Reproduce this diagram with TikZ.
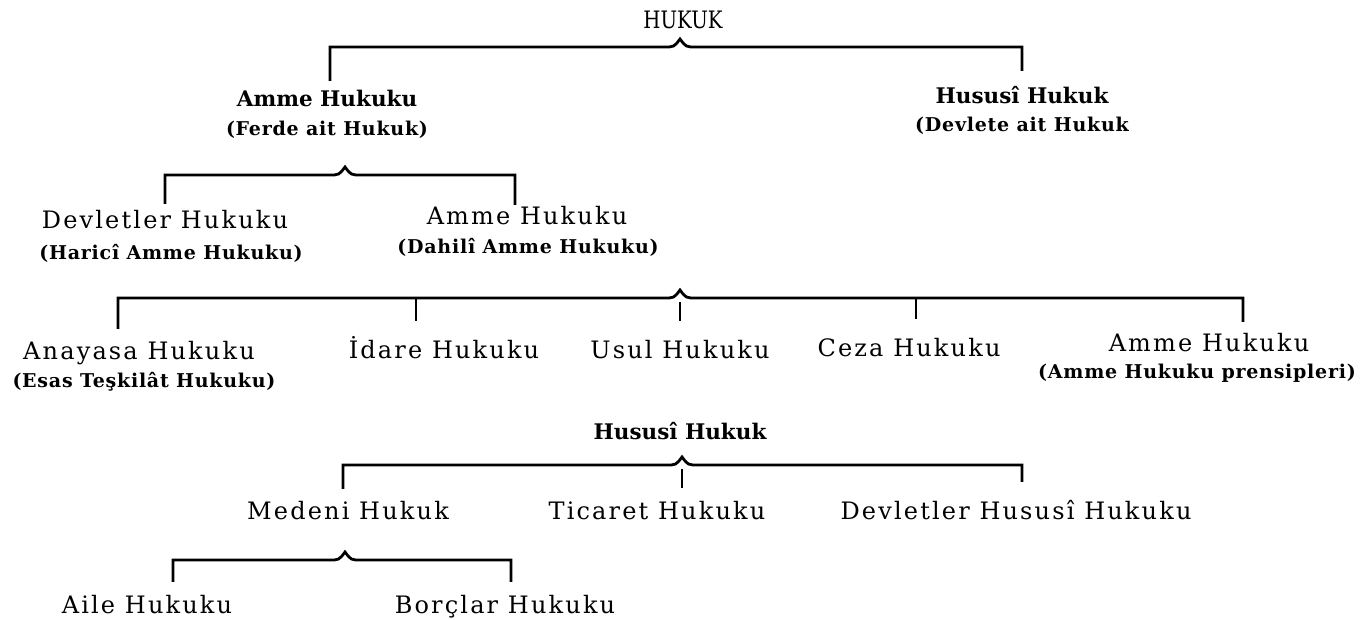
\documentclass[tikz,border=0pt]{standalone}
\usepackage{fontspec}
\setmainfont{DejaVu Serif}
\newfontfamily\spacedfont{DejaVu Serif}[LetterSpace=9]
\newfontfamily\notefont{DejaVu Serif}[LetterSpace=4]
\newfontfamily\condfont{DejaVu Serif}[FakeStretch=0.82]
\usepackage{tikz}
\usetikzlibrary{positioning}

\tikzset{
  term/.style = {font=\spacedfont\fontsize{24}{28}\selectfont, inner sep=0pt, text height=17pt, text depth=5pt},
  head/.style = {font=\bfseries\fontsize{21.5}{25}\selectfont, inner sep=0pt, text height=16pt, text depth=4pt},
  note/.style = {font=\notefont\bfseries\fontsize{19}{22}\selectfont, inner sep=0pt, text height=14pt, text depth=4pt},
  title/.style = {font=\condfont\fontsize{24}{28}\selectfont, inner sep=0pt},
  brk/.style = {line width=2.8pt},
  leg/.style = {line width=2.3pt}
}

\begin{document}
\begin{tikzpicture}[x=1pt, y=-1pt]
  \useasboundingbox (0,0) rectangle (1364,619);

  % level 1
  \node[title] (hukuk) at (683,20) {HUKUK};
  \node[head] (amme1) at (327,100) {Amme Hukuku};
  \node[note] (ferde) at (327,130) {(Ferde ait Hukuk)};
  \node[head] (hususi1) at (1022,97) {Hususî Hukuk};
  \node[note] (devlete) at (1022,126) {(Devlete ait Hukuk};
  \coordinate (t1) at (680,47);
  \draw[brk] ([xshift=3pt,yshift=9pt]amme1.north) |- ([xshift=-16pt]t1)
    .. controls ([xshift=-6pt]t1) .. ([yshift=8pt]t1)
    .. controls ([xshift=6pt]t1) .. ([xshift=16pt]t1) -| ([yshift=16pt]hususi1.north);

  % amme hukuku
  \node[term] (devl) at (165,222) {Devletler Hukuku};
  \node[note] (haric) at (171,254) {(Haricî Amme Hukuku)};
  \node[term] (amme2) at (527,218) {Amme Hukuku};
  \node[note] (dahili) at (528,248) {(Dahilî Amme Hukuku)};
  \coordinate (t2) at (345,175);
  \draw[brk] ([yshift=7pt]devl.north) |- ([xshift=-16pt]t2)
    .. controls ([xshift=-6pt]t2) .. ([yshift=8pt]t2)
    .. controls ([xshift=6pt]t2) .. ([xshift=16pt]t2) -| ([xshift=-12pt,yshift=2pt]amme2.north);

  % dahili amme hukuku
  \node[term] (anayasa) at (139,353) {Anayasa Hukuku};
  \node[note] (esas) at (144,382) {(Esas Teşkilât Hukuku)};
  \node[term] (idare) at (444,352) {İdare Hukuku};
  \node[term] (usul) at (680,352) {Usul Hukuku};
  \node[term] (ceza) at (909,350) {Ceza Hukuku};
  \node[term] (amme3) at (1209,345) {Amme Hukuku};
  \node[note] (prensip) at (1197,373) {(Amme Hukuku prensipleri)};
  \coordinate (t3) at (680,298);
  \draw[brk] ([xshift=-21pt,yshift=13pt]anayasa.north) |- ([xshift=-16pt]t3)
    .. controls ([xshift=-6pt]t3) .. ([yshift=8pt]t3)
    .. controls ([xshift=6pt]t3) .. ([xshift=16pt]t3) -| ([xshift=34pt,yshift=12pt]amme3.north);
  \draw[leg] ([xshift=-28pt]idare.north |- t3) -- ([xshift=-28pt,yshift=20pt]idare.north);
  \draw[leg] ([yshift=-4pt]t3) -- ([yshift=20pt]usul.north);
  \draw[leg] ([xshift=7pt]ceza.north |- t3) -- ([xshift=7pt,yshift=20pt]ceza.north);

  % hususi hukuk
  \node[head] (hususi2) at (680,433) {Hususî Hukuk};
  \node[term] (medeni) at (348,513) {Medeni Hukuk};
  \node[term] (ticaret) at (657,513) {Ticaret Hukuku};
  \node[term] (devhus) at (1016,513) {Devletler Hususî Hukuku};
  \coordinate (t4) at (682,465);
  \draw[brk] ([xshift=-5pt,yshift=13pt]medeni.north) |- ([xshift=-16pt]t4)
    .. controls ([xshift=-6pt]t4) .. ([yshift=8pt]t4)
    .. controls ([xshift=6pt]t4) .. ([xshift=16pt]t4) -| ([xshift=6pt,yshift=20pt]devhus.north);
  \draw[leg] ([yshift=-4pt]t4) -- (t4 |- 0,488);

  % medeni hukuk
  \node[term] (aile) at (147,607) {Aile Hukuku};
  \node[term] (borclar) at (505,607) {Borçlar Hukuku};
  \coordinate (t5) at (345,560);
  \draw[brk] ([xshift=26pt,yshift=14pt]aile.north) |- ([xshift=-16pt]t5)
    .. controls ([xshift=-6pt]t5) .. ([yshift=8pt]t5)
    .. controls ([xshift=6pt]t5) .. ([xshift=16pt]t5) -| ([xshift=6pt,yshift=14pt]borclar.north);
\end{tikzpicture}
\end{document}
